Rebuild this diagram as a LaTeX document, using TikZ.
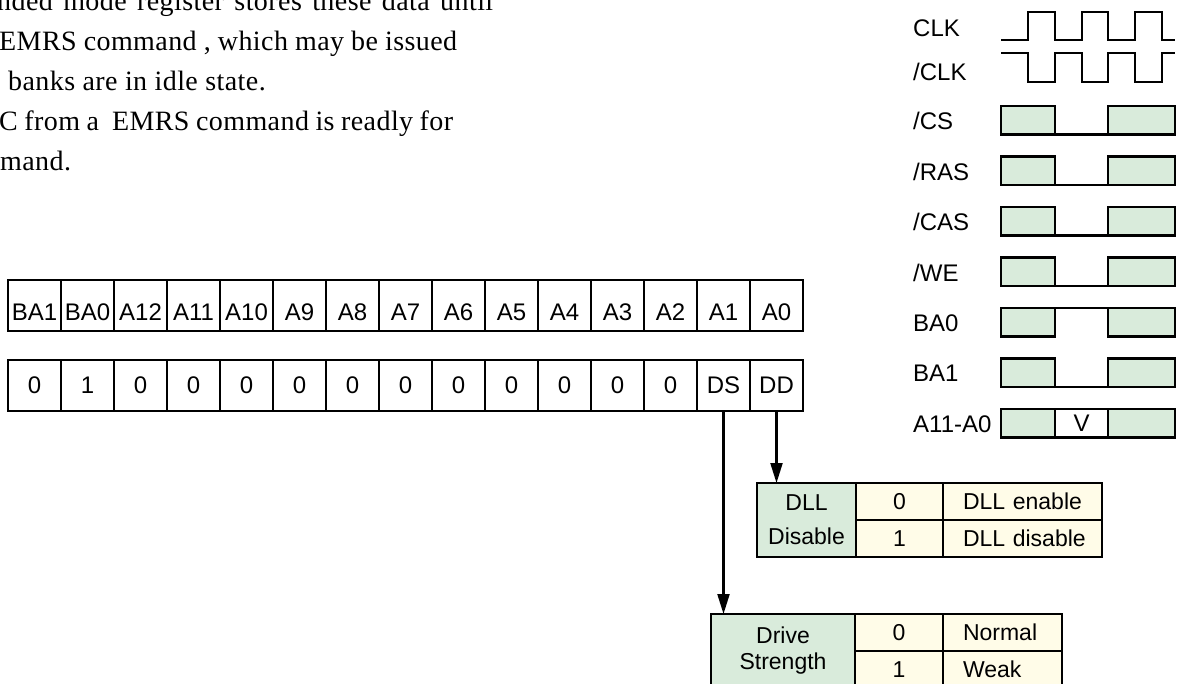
\documentclass[tikz,border=0pt]{standalone}
\usepackage{fontspec}
\setmainfont{Liberation Serif}
\setsansfont{Liberation Sans}
\usetikzlibrary{arrows.meta}
\definecolor{ddeedd}{rgb}{0.85,0.92,0.86}
\definecolor{ffffee}{rgb}{1.,0.99,0.91}
\tikzset{
  cell/.style={draw,line width=2.1pt,anchor=north west,outer sep=0pt,minimum width=53pt,minimum height=51pt,inner sep=0pt,font=\sffamily\fontsize{24}{27}\selectfont},
  namecell/.style={draw,line width=2.1pt,fill=ddeedd,anchor=north west,outer sep=0pt,inner sep=0pt,align=center,font=\sffamily\fontsize{23}{26}\selectfont},
  valcell/.style={draw,line width=2.1pt,fill=ffffee,anchor=north west,outer sep=0pt,minimum height=37pt,inner sep=0pt,font=\sffamily\fontsize{23}{26}\selectfont},
  desccell/.style={valcell,minimum width=#1,text width=#1,align=left,execute at begin node=\hspace*{20pt}},
  signame/.style={anchor=west,inner sep=0pt,font=\sffamily\fontsize{24}{26}\selectfont},
  wave/.style={line width=2.1pt,line join=miter},
  txtline/.style={anchor=base west,inner sep=0pt,font=\fontsize{28}{34}\selectfont\addfontfeature{LetterSpace=1.5}}
}
\begin{document}
\begin{tikzpicture}[line cap=butt,>={Triangle[length=20pt,width=12pt]},x=1pt,y=-1pt]
\useasboundingbox (0,0) rectangle (1180,686);
\clip (0,0) rectangle (1180,683);
% text at the top
\node[txtline] (line1) at (-3,10) {\makebox[496pt][s]{nded mode register stores these data until}};
\node[txtline] (line2) at (-1,50) {\makebox[458pt][s]{EMRS command , which may be issued}};
\node[txtline] (line3) at (8,90) {banks are in idle state.};
\node[txtline] (line4) at (-1,130) {\makebox[454pt][s]{C from a \ EMRS command is readly for}};
\node[txtline] (line5) at (0,170) {mand.};
% register
\foreach \lbl [count=\i] in {BA1,BA0,A12,A11,A10,A9,A8,A7,A6,A5,A4,A3,A2,A1,A0}
  \node[cell,text height=29pt,text depth=0pt] (h\i) at ({8+53*(\i-1)},280) {\lbl};
\foreach \val [count=\i] in {0,1,0,0,0,\raisebox{-3pt}{0},0,0,0,0,0,0,\raisebox{-3pt}{0},DS,DD}
  \node[cell] (v\i) at ({8+53*(\i-1)},360) {\val};
% DLL table
\node[namecell,minimum width=99pt,minimum height=74pt] (dllname) at (757,483) {\raisebox{-2pt}{DLL}\\[8pt]\raisebox{-2pt}{Disable}};
\node[valcell,minimum width=87pt] (dllval0) at (dllname.north east) {0};
\node[valcell,minimum width=87pt] (dllval1) at (dllval0.south west) {1};
\node[desccell=159pt] (dlldesc0) at (dllval0.north east) {DLL enable};
\node[desccell=159pt] (dlldesc1) at (dllval1.north east) {DLL disable};
% drive strength table
\node[namecell,minimum width=144pt,minimum height=74pt] (drvname) at (711,614) {Drive\\Strength};
\node[valcell,minimum width=88pt] (drvval0) at (drvname.north east) {0};
\node[valcell,minimum width=88pt] (drvval1) at (drvval0.south west) {1};
\node[desccell=119pt] (drvdesc0) at (drvval0.north east) {Normal};
\node[desccell=119pt] (drvdesc1) at (drvval1.north east) {Weak};
\draw[->,line width=2.1pt] (v14.south) -- (v14.south |- drvname.north);
\draw[->,line width=2.1pt] (v15.south) -- (v15.south |- dllname.north);
% timing
\node[signame] (clk) at (913,28) {CLK};
\node[signame] (clkb) at (913,72) {/CLK};
\draw[wave] (1001,40) -- (1028,40) -- (1028,12) -- (1055,12) -- (1055,40) -- (1082,40) -- (1082,12) -- (1108,12) -- (1108,40) -- (1135,40) -- (1135,12) -- (1162,12) -- (1162,40) -- (1175,40);
\draw[wave] (1001,53) -- (1028,53) -- (1028,82) -- (1055,82) -- (1055,53) -- (1082,53) -- (1082,82) -- (1108,82) -- (1108,53) -- (1135,53) -- (1135,82) -- (1162,82) -- (1162,53) -- (1175,53);
\foreach \lbl [count=\i from 0] in {/CS,/RAS,/CAS,/WE,BA0,BA1,A11-A0} {
  \pgfmathsetmacro\ytop{106+50.5*\i}
  \node[signame] (sig\i) at (913,\ytop+15) {\lbl};
  \draw[wave,fill=ddeedd] (1001,\ytop) rectangle ++(54,28.5);
  \draw[wave,fill=ddeedd] (1108,\ytop) rectangle ++(67,28.5);
}
\foreach \i in {0,1,2,3,5,6}
  \draw[wave] (1055,106+50.5*\i+28.5) -- ++(53,0);
\foreach \i in {4,6}
  \draw[wave] (1055,106+50.5*\i) -- ++(53,0);
\node[signame,anchor=center] (vval) at (1081.5,409+14) {V};
\end{tikzpicture}
\end{document}
